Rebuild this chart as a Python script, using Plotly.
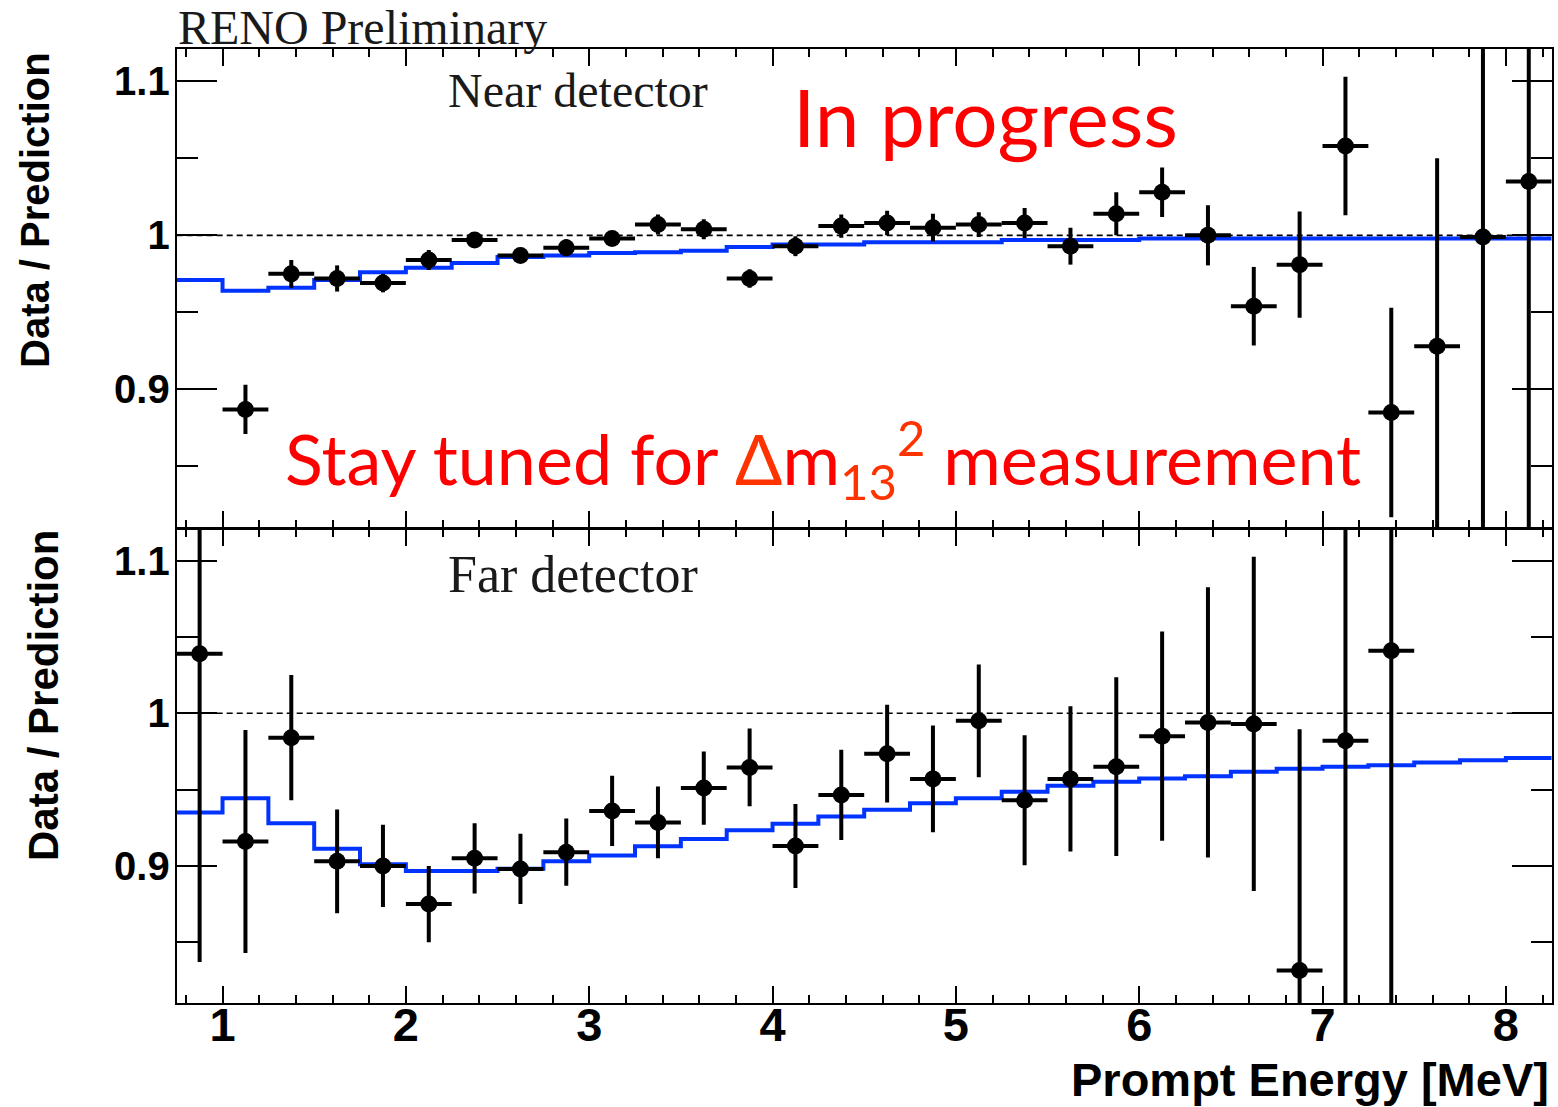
import plotly.graph_objects as go

W, H = 1558, 1107

# Energy binning (0.25 MeV bins)
bin_edges = [0.75, 1.0, 1.25, 1.5, 1.75, 2.0, 2.25, 2.5, 2.75, 3.0, 3.25, 3.5,
             3.75, 4.0, 4.25, 4.5, 4.75, 5.0, 5.25, 5.5, 5.75, 6.0, 6.25, 6.5,
             6.75, 7.0, 7.25, 7.5, 7.75, 8.0, 8.25]

# Near detector: data / prediction
near_x = [1.125, 1.375, 1.625, 1.875, 2.125, 2.375, 2.625, 2.875, 3.125, 3.375,
          3.625, 3.875, 4.125, 4.375, 4.625, 4.875, 5.125, 5.375, 5.625, 5.875,
          6.125, 6.375, 6.625, 6.875, 7.125, 7.375, 7.625, 7.875, 8.125]
near_ratio = [0.887, 0.975, 0.972, 0.969, 0.984, 0.997, 0.987, 0.992, 0.998, 1.007,
              1.004, 0.972, 0.993, 1.006, 1.008, 1.005, 1.007, 1.008, 0.993, 1.014,
              1.028, 1.000, 0.954, 0.981, 1.058, 0.885, 0.928, 0.999, 1.035]
near_err = [0.016, 0.009, 0.0085, 0.006, 0.0065, 0.005, 0.005, 0.0055, 0.0045, 0.0065,
            0.0065, 0.006, 0.0065, 0.0075, 0.008, 0.009, 0.008, 0.0097, 0.012, 0.014,
            0.016, 0.0195, 0.0255, 0.0345, 0.045, 0.068, 0.122, 0.25, 0.30]
near_pred = [0.971, 0.964, 0.966, 0.971, 0.976, 0.979, 0.982, 0.986, 0.987, 0.9885,
             0.989, 0.990, 0.9925, 0.994, 0.994, 0.9955, 0.9955, 0.9955, 0.997, 0.997,
             0.997, 0.998, 0.998, 0.998, 0.998, 0.998, 0.998, 0.998, 0.998, 0.998]

# Far detector: data / prediction
far_x = [0.875, 1.125, 1.375, 1.625, 1.875, 2.125, 2.375, 2.625, 2.875, 3.125,
         3.375, 3.625, 3.875, 4.125, 4.375, 4.625, 4.875, 5.125, 5.375, 5.625,
         5.875, 6.125, 6.375, 6.625, 6.875, 7.125, 7.375]
far_ratio = [1.039, 0.916, 0.984, 0.903, 0.900, 0.875, 0.905, 0.898, 0.909, 0.936,
             0.9285, 0.951, 0.9645, 0.913, 0.9465, 0.9735, 0.957, 0.995, 0.943, 0.957,
             0.965, 0.985, 0.994, 0.993, 0.8315, 0.982, 1.041]
far_err = [0.202, 0.073, 0.041, 0.034, 0.027, 0.025, 0.023, 0.023, 0.022, 0.023,
           0.0235, 0.024, 0.0255, 0.0275, 0.0295, 0.032, 0.035, 0.037, 0.0425, 0.0475,
           0.0585, 0.0685, 0.0885, 0.1095, 0.158, 0.25, 0.35]
far_pred = [0.935, 0.9443, 0.928, 0.9112, 0.901, 0.8966, 0.8966, 0.8982, 0.9031, 0.9068,
            0.9129, 0.9177, 0.9233, 0.9276, 0.9324, 0.9367, 0.9411, 0.9443, 0.9486, 0.9525,
            0.9551, 0.9573, 0.9588, 0.9616, 0.9636, 0.9649, 0.966, 0.9678, 0.9692, 0.9707]

y_ticks = [0.9, 1.0, 1.1]
y_tick_text = ["0.9", "1", "1.1"]

BLUE = "#0033ff"
RED = "#ff0000"
ORANGE_RED = "#ff3300"


def px_x(x):
    return x / W


def px_y(y):
    return 1 - y / H


fig = go.Figure()

panels = [
    ("x", "y", near_pred, near_x, near_ratio, near_err),
    ("x2", "y2", far_pred, far_x, far_ratio, far_err),
]
for xa, ya, pred, px, ratio, err in panels:
    # unity reference
    fig.add_shape(type="line", xref=xa, yref=ya, x0=bin_edges[0], x1=bin_edges[-1],
                  y0=1.0, y1=1.0, layer="below",
                  line=dict(color="black", width=1.6, dash="6px,4px"))
    # predicted ratio as a step histogram
    fig.add_trace(go.Scatter(
        x=bin_edges, y=pred + [pred[-1]], mode="lines", line_shape="hv",
        line=dict(color=BLUE, width=4), xaxis=xa, yaxis=ya, showlegend=False,
        hoverinfo="skip"))
    # measured ratio with errors
    fig.add_trace(go.Scatter(
        x=px, y=ratio, mode="markers", xaxis=xa, yaxis=ya, showlegend=False,
        marker=dict(color="black", size=17),
        error_y=dict(type="data", array=err, color="black", thickness=4, width=0),
        error_x=dict(type="constant", value=0.125, color="black", thickness=4, width=0)))

x_dom = [px_x(176.7), px_x(1551.7)]
top_dom = [px_y(528.0), px_y(49.0)]
bot_dom = [px_y(1003.3), px_y(528.5)]

common_x = dict(range=[0.75, 8.25], domain=x_dom, showgrid=False, zeroline=False,
                showline=True, linecolor="black", linewidth=2, mirror="allticks",
                ticks="inside", ticklen=17, tickwidth=2, tickcolor="black",
                tickmode="linear", tick0=0, dtick=1,
                minor=dict(ticks="inside", ticklen=8, tickwidth=2, tickcolor="black",
                           dtick=0.2, tick0=0, showgrid=False),
                automargin=False)
common_y = dict(range=[0.81, 1.121], showgrid=False, zeroline=False,
                showline=True, linecolor="black", linewidth=2, mirror="allticks",
                ticks="inside", ticklen=40, tickwidth=2, tickcolor="black",
                tickmode="array", tickvals=y_ticks, ticktext=y_tick_text,
                minor=dict(ticks="inside", ticklen=21, tickwidth=2, tickcolor="black",
                           tickmode="array", tickvals=[0.85, 0.95, 1.05], showgrid=False),
                tickfont=dict(family="Liberation Sans", size=40, color="black",
                              weight="bold"),
                ticklabelstandoff=-3,
                automargin=False)

fig.update_layout(
    width=W, height=H,
    margin=dict(l=0, r=0, t=0, b=0),
    paper_bgcolor="white", plot_bgcolor="white",
    xaxis=dict(common_x, anchor="y", showticklabels=False),
    yaxis=dict(common_y, anchor="x", domain=top_dom),
    xaxis2=dict(common_x, anchor="y2",
                tickfont=dict(family="Liberation Sans", size=47, color="black",
                              weight="bold"),
                ticklabelstandoff=-21),
    yaxis2=dict(common_y, anchor="x2", domain=bot_dom),
)

sans_bold = dict(family="Liberation Sans", size=40, color="black", weight="bold")

annotations = [
    dict(text="RENO Preliminary", x=px_x(176), y=px_y(27), xanchor="left",
         yanchor="middle",
         font=dict(family="Liberation Serif", size=48, color="#1a1a1a")),
    dict(text="Near detector", x=px_x(446), y=px_y(90), xanchor="left",
         yanchor="middle",
         font=dict(family="Liberation Serif", size=48, color="#1a1a1a")),
    dict(text="Far detector", x=px_x(446), y=px_y(574), xanchor="left",
         yanchor="middle",
         font=dict(family="Liberation Serif", size=52, color="#1a1a1a")),
    dict(text="Data / Prediction", x=px_x(35), y=px_y(210), textangle=-90,
         xanchor="center", yanchor="middle", font=sans_bold),
    dict(text="Data / Prediction", x=px_x(43), y=px_y(696), textangle=-90,
         xanchor="center", yanchor="middle",
         font=dict(sans_bold, size=42)),
    dict(text="Prompt Energy [MeV]", x=px_x(1551), y=px_y(1079), xanchor="right",
         yanchor="middle", font=dict(family="Liberation Sans", size=47,
                                     color="black", weight="bold")),
    dict(text="In progress", x=px_x(791), y=px_y(116), xanchor="left",
         yanchor="middle", font=dict(family="Lato", size=80, color=RED)),
    dict(text=("Stay tuned for <span style='color:%s'>\u0394</span>m"
               "<sub><span style='color:%s'>13</span></sub>"
               "<sup><span style='color:%s'>2</span></sup> measurement")
         % (ORANGE_RED, ORANGE_RED, ORANGE_RED),
         x=px_x(283), y=px_y(459), xanchor="left", yanchor="middle",
         font=dict(family="Lato", size=70, color=RED)),
]
for a in annotations:
    a.update(xref="paper", yref="paper", showarrow=False)
fig.update_layout(annotations=annotations)

fig.write_html("out.html")
